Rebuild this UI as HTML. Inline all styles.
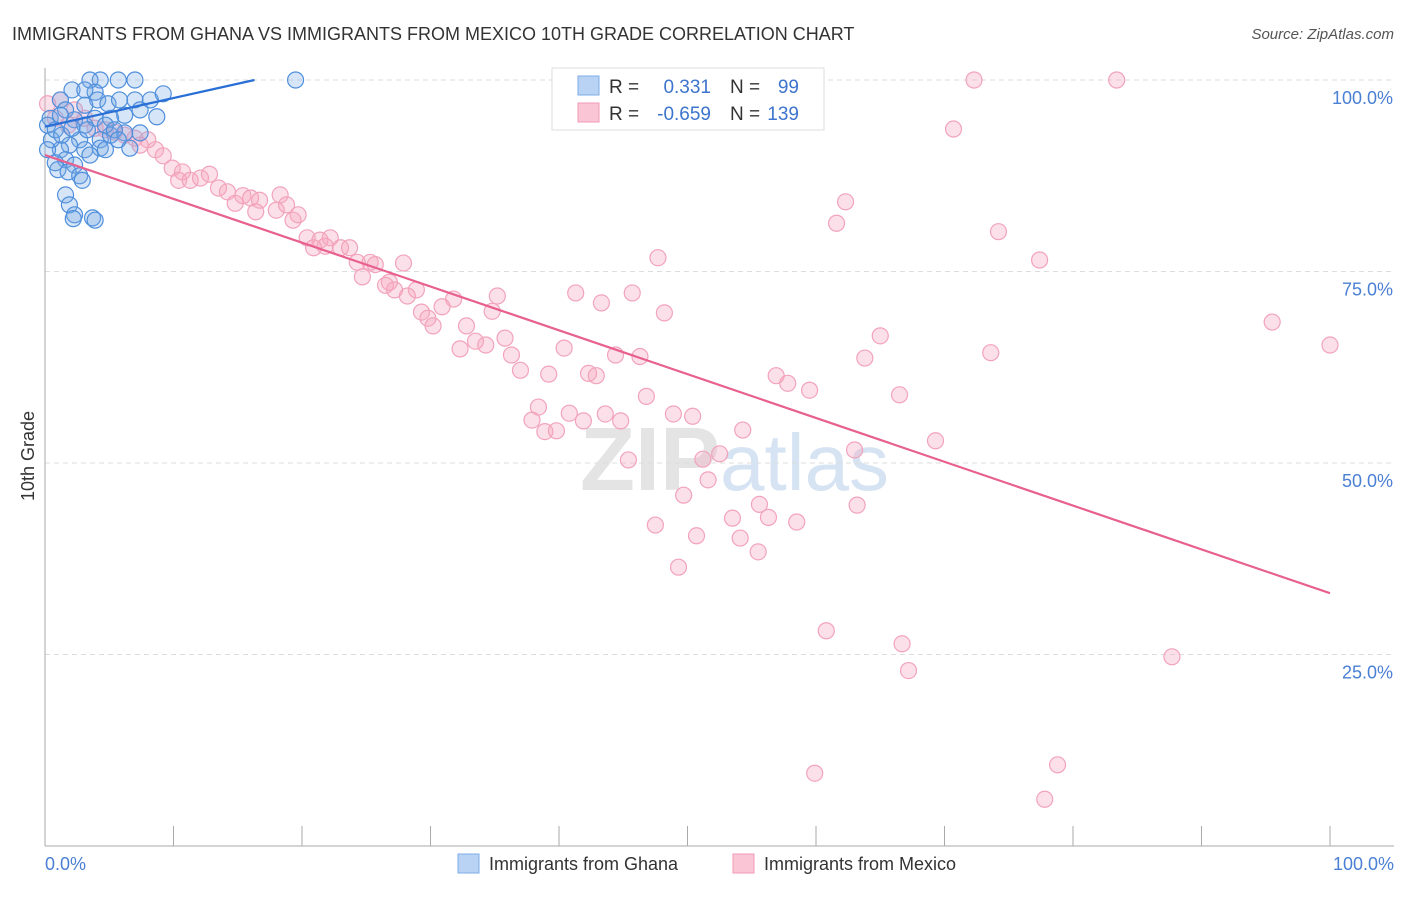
<!DOCTYPE html>
<html><head><meta charset="utf-8"><style>
body{margin:0;background:#fff;font-family:"Liberation Sans",sans-serif}
</style></head><body>
<svg width="1406" height="892" xmlns="http://www.w3.org/2000/svg" id="chart">
<text x="12" y="40" font-size="18" fill="#333">IMMIGRANTS FROM GHANA VS IMMIGRANTS FROM MEXICO 10TH GRADE CORRELATION CHART</text>
<text x="1394" y="39" font-size="15" fill="#555" text-anchor="end" font-style="italic">Source: ZipAtlas.com</text>
<text x="720" y="490" font-size="90" font-weight="bold" fill="#e4e4e4" text-anchor="end">ZIP</text>
<text x="720" y="490" font-size="80" fill="#d6e3f3">atlas</text>
<g id="grid"></g>
<line x1="45" y1="68" x2="45" y2="846" stroke="#aaa"/>
<line x1="45" y1="846" x2="1394" y2="846" stroke="#aaa"/>
<g id="xticks"></g>
<text x="34" y="456" font-size="18" fill="#333" text-anchor="middle" transform="rotate(-90 34 456)">10th Grade</text>
<text x="45" y="870" font-size="18" fill="#4a7fd4">0.0%</text>
<text x="1394" y="870" font-size="18" fill="#4a7fd4" text-anchor="end">100.0%</text>
<g id="pink"></g><g id="blue"></g><g id="lines"></g>
<g>
<rect x="552" y="68" width="272" height="62" fill="#fff" stroke="#ddd"/>
<rect x="578" y="76" width="21" height="19" fill="#b9d3f5" stroke="#7eaee8"/>
<rect x="578" y="103" width="21" height="19" fill="#fac6d5" stroke="#f09ab5"/>
<text x="609" y="93" font-size="19" fill="#333">R =</text>
<text x="711" y="93" font-size="19" fill="#3d74cc" text-anchor="end">0.331</text>
<text x="730" y="93" font-size="19" fill="#333">N =</text>
<text x="799" y="93" font-size="19" fill="#3d74cc" text-anchor="end">99</text>
<text x="609" y="120" font-size="19" fill="#333">R =</text>
<text x="711" y="120" font-size="19" fill="#3d74cc" text-anchor="end">-0.659</text>
<text x="730" y="120" font-size="19" fill="#333">N =</text>
<text x="799" y="120" font-size="19" fill="#3d74cc" text-anchor="end">139</text>
</g>
<g>
<rect x="458" y="854" width="21" height="19" fill="#b9d3f5" stroke="#7eaee8"/>
<text x="489" y="870" font-size="18" fill="#333">Immigrants from Ghana</text>
<rect x="733" y="854" width="21" height="19" fill="#fac6d5" stroke="#f09ab5"/>
<text x="764" y="870" font-size="18" fill="#333">Immigrants from Mexico</text>
</g>
</svg>
<script>
const yTicks=[100,75,50,25];
const yTickLabels=["100.0%","75.0%","50.0%","25.0%"];
const xTicks=[0,10,20,30,40,50,60,70,80,90,100];
const blueX=[4.3,3.5,3.9,7,5.7,19.5,2.1,3.1,4.1,4.9,5.8,7,8.2,9.2,8.7,7.4,6.2,1.2,0.4,1.6,2.3,3.1,3.9,5.1,4.3,5.1,6.2,7.4,2.7,1.9,1.2,3.1,4.3,3.5,1.6,2.3,1,1.8,2.7,2.9,1.6,1.9,2.3,2.2,3.7,3.9,0.2,0.5,0.8,1.3,0.2,0.8,2.1,3.3,4.7,5.4,6.6,5.7,4.7,3.1,1.2];
const blueY=[100,100,98.4,100,100,100,98.7,98.7,97.4,96.9,97.4,97.4,97.4,98.2,95.2,96.1,95.4,97.4,95,96.1,94.8,94.1,95,95,92.2,92.8,93.1,93.1,92.2,91.5,90.9,90.9,91.1,90.2,89.6,88.9,88.3,88,87.5,86.9,85,83.7,82.4,81.9,82,81.7,94.1,92.2,93.5,92.8,90.9,89.2,93.7,93.5,94.1,93.5,91.1,92.2,90.9,96.7,95.4];
const pinkX=[72.3,83.4,70.7,62.3,61.6,74.2,77.4,47.7,95.5,100,65,63.8,73.6,41.3,43.3,45.7,48.2,35.2,31.8,30.9,29.3,29.8,30.2,32.8,34.8,33.5,34.3,32.3,35.8,36.3,37,39.2,40.4,42.3,42.9,44.4,46.3,46.8,38.4,37.9,38.9,39.8,40.8,41.9,43.6,44.8,45.4,48.9,50.4,51.2,52.5,51.6,54.3,49.7,47.5,50.7,49.3,53.5,54.1,55.5,55.6,56.3,58.5,56.9,57.8,59.5,63,63.2,66.5,69.3,60.8,66.7,67.2,59.9,78.8,77.8,87.7,0.2,1.2,2.3,0.8,1.8,3.1,3.9,4.7,5.4,6.2,7,8,7.4,8.6,9.2,9.9,10.7,10.4,11.3,12.1,12.8,13.5,14.2,14.8,15.4,16,16.7,16.4,18,18.3,18.8,19.3,19.7,20.4,21.4,20.9,22.2,21.8,23,23.7,24.3,25.3,25.7,24.7,26.5,27.2,27.9,28.2,28.9,26.8];
const pinkY=[100,100,93.6,84.1,81.3,80.2,76.5,76.8,68.4,65.4,66.6,63.7,64.4,72.2,70.9,72.2,69.6,71.8,71.4,70.4,69.7,68.9,67.9,67.9,69.8,65.9,65.4,64.9,66.3,64.1,62.1,61.6,65,61.7,61.4,64.1,63.9,58.7,57.3,55.6,54.1,54.2,56.5,55.5,56.4,55.5,50.4,56.4,56.1,50.5,51.2,47.8,54.3,45.8,41.9,40.5,36.4,42.8,40.2,38.4,44.6,42.9,42.3,61.4,60.4,59.5,51.7,44.5,58.9,52.9,28.1,26.4,22.9,9.5,10.6,6.1,24.7,96.9,97.4,96.1,95,94.1,95,93.7,93.5,93.2,92.8,92.4,92.2,91.5,90.9,90.1,88.5,88,86.9,86.9,87.2,87.7,85.9,85.4,83.9,84.9,84.6,84.3,82.8,83,85,83.7,81.7,82.4,79.4,79.1,78.1,79.4,78.3,78.1,78.1,76.2,76.2,75.9,74.3,73.2,72.6,76.1,71.8,72.6,73.6];
const blueTrend=[[0,93.9],[16.3,100]];
const pinkTrend=[[0,90.2],[100,33]];
const NS="http://www.w3.org/2000/svg";
function sx(v){return 45+v*12.85;}
function sy(v){return 80+(100-v)*7.66;}
function mk(tag,attrs,parent){const e=document.createElementNS(NS,tag);for(const k in attrs)e.setAttribute(k,attrs[k]);document.getElementById(parent).appendChild(e);return e;}
yTicks.forEach((t,i)=>{
 const l=mk('line',{x1:45,x2:1394,y1:sy(t),y2:sy(t),stroke:'#ddd','stroke-dasharray':'5,4'},'grid');
 
 
 const tx=mk('text',{x:1393,y:sy(t)+24,'font-size':18,fill:'#4a7fd4','text-anchor':'end'},'grid');
 tx.textContent=yTickLabels[i];
 
 
});
xTicks.forEach(t=>{
 const l=mk('line',{x1:sx(t),x2:sx(t),y1:826,y2:846,stroke:'#aaa'},'xticks');
 
 
});
pinkX.forEach((x,i)=>{
 const c=mk('circle',{cx:sx(x),cy:sy(pinkY[i]),r:8,fill:'rgba(246,166,192,0.35)',stroke:'#f2a3bb','stroke-width':1.2},'pink');
 
 
});
blueX.forEach((x,i)=>{
 const c=mk('circle',{cx:sx(x),cy:sy(blueY[i]),r:8,fill:'rgba(120,170,230,0.3)',stroke:'#4f8fdc','stroke-width':1.2},'blue');
 
 
});
const bl=mk('line',{x1:sx(blueTrend[0][0]),y1:sy(blueTrend[0][1]),x2:sx(blueTrend[1][0]),y2:sy(blueTrend[1][1]),stroke:'#2a6fd6','stroke-width':2.2},'lines');


const pl=mk('line',{x1:sx(pinkTrend[0][0]),y1:sy(pinkTrend[0][1]),x2:sx(pinkTrend[1][0]),y2:sy(pinkTrend[1][1]),stroke:'#e8608f','stroke-width':2.2},'lines');


</script>
</body></html>
